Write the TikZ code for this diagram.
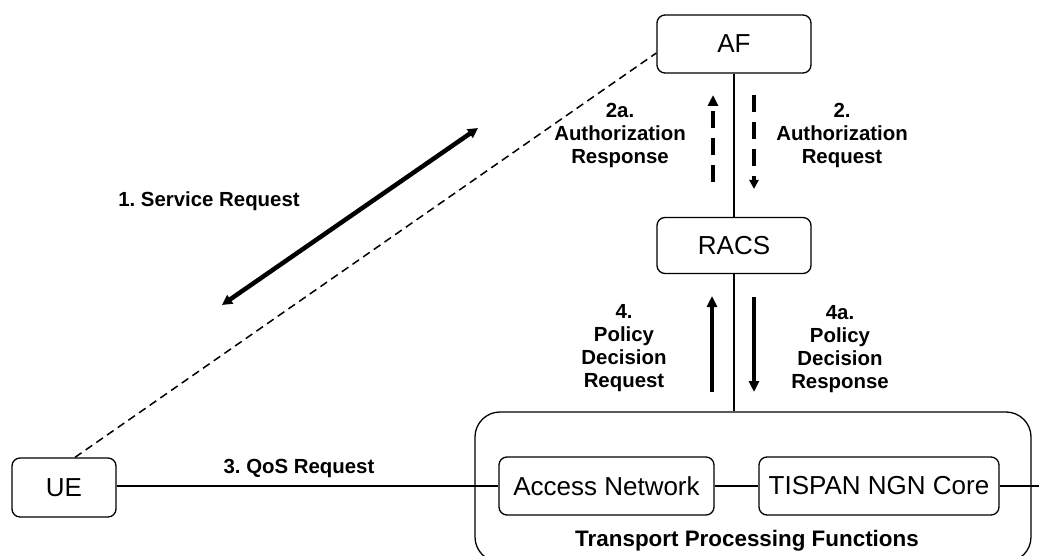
\documentclass[tikz,border=0pt]{standalone}
\usepackage{fontspec}
\setmainfont{Liberation Sans}
\usetikzlibrary{arrows.meta,calc}
\frenchspacing
\begin{document}
\begin{tikzpicture}[x=1pt,y=-1pt,
  box/.style={draw,line width=1.3pt,rounded corners=8pt,inner sep=0pt,
    font=\fontsize{26}{30}\selectfont},
  lbl/.style={align=center,font=\fontsize{20.4}{23}\selectfont\bfseries,inner sep=0pt},
  thin/.style={line width=1.5pt},
  thickarrow/.style={line width=4pt,-{Triangle[length=11pt,width=10pt]}},
  dasharrow/.style={line width=4pt,dash pattern=on 17pt off 10pt,-{Triangle[length=11pt,width=10pt]}}
]
\useasboundingbox (0,0) rectangle (1039,556);
% nodes
\node[box,minimum width=154pt,minimum height=58pt] (AF) at (734,44) {AF};
\node[box,minimum width=154pt,minimum height=56pt] (RACS) at (734,245.5) {RACS};
\node[box,minimum width=104pt,minimum height=59pt] (UE) at (64,487.5) {UE};
\node[draw,line width=1.3pt,rounded corners=25pt,minimum width=556pt,minimum height=150pt,inner sep=0pt] (TPF) at (753,487) {};
\node[box,minimum width=215pt,minimum height=58pt] (AN) at (606.5,486) {Access Network};
\node[box,minimum width=240pt,minimum height=58pt] (CORE) at (879,486) {TISPAN NGN Core};
\node[lbl,font=\fontsize{22.4}{26}\selectfont\bfseries] (TPFL) at (747,541) {Transport Processing Functions};
% labels
\node[lbl] (L1) at (209,201) {1. Service Request};
\node[lbl] (L2a) at (620,135) {2a.\\Authorization\\Response};
\node[lbl] (L2) at (842,135) {2.\\Authorization\\Request};
\node[lbl] (L3) at (299,468) {3. QoS Request};
\node[lbl] (L4) at (624,348.5) {4.\\Policy\\Decision\\Request};
\node[lbl] (L4a) at (840,349) {4a.\\Policy\\Decision\\Response};
% connectors
\draw[thin] (AF.south) -- (RACS.north);
\draw[thin] (RACS.south) -- (RACS.south |- TPF.north);
\coordinate (E) at (1039,486);
\draw[thin] (UE.east |- AN.west) -- (AN.west);
\draw[thin] (AN.east) -- (CORE.west);
\draw[thin] (CORE.east) -- (E);
\draw[thin,dash pattern=on 8pt off 5pt] ($(UE.north)+(11,0)$) -- ($(AF.west)+(0,9)$);
% service request
\coordinate (S1) at (222,305);
\coordinate (S2) at (478,128);
\draw[line width=4.5pt,{Triangle[length=10pt,width=10pt]}-{Triangle[length=10pt,width=10pt]}] (S1) -- (S2);
% 2 / 2a
\coordinate (A2aS) at (713,182);
\coordinate (A2aE) at (713,95);
\coordinate (A2S) at (754,95);
\coordinate (A2E) at (754,189);
\draw[dasharrow] (A2aS) -- (A2aE);
\draw[dasharrow,-{Triangle[length=9pt,width=9pt]}] (A2S) -- (A2E);
% 4 / 4a
\coordinate (A4S) at (712,392);
\coordinate (A4E) at (712,296);
\coordinate (A4aS) at (754,297);
\coordinate (A4aE) at (754,392);
\draw[thickarrow] (A4S) -- (A4E);
\draw[thickarrow] (A4aS) -- (A4aE);
\end{tikzpicture}
\end{document}
